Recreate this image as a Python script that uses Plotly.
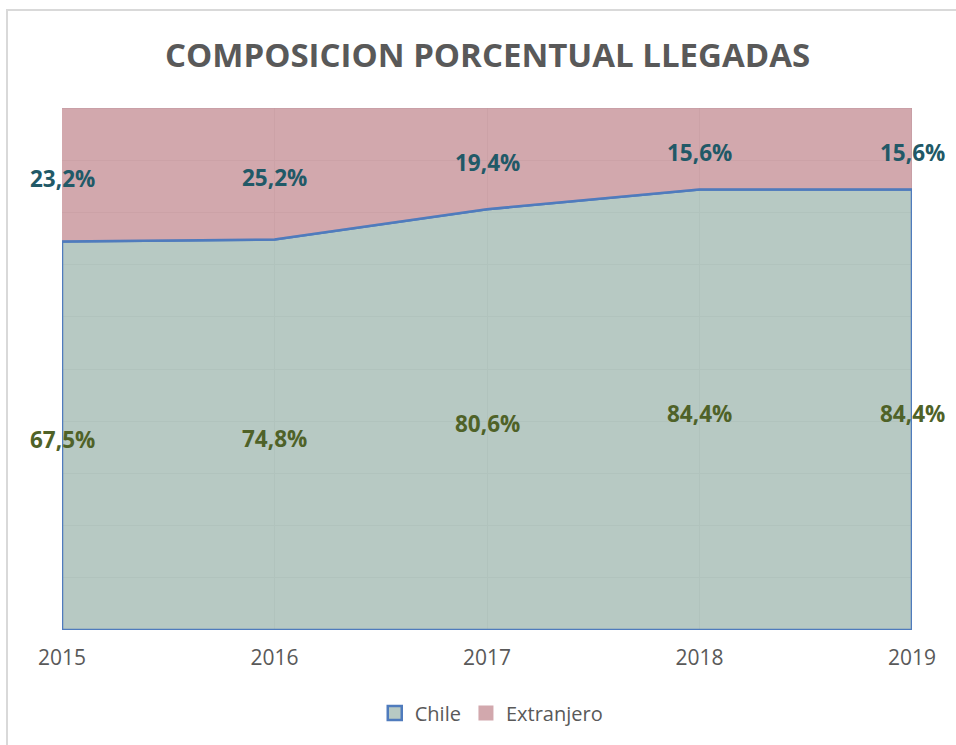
import plotly.graph_objects as go

years = [2015, 2016, 2017, 2018, 2019]
chile = [67.5, 74.8, 80.6, 84.4, 84.4]
extranjero = [23.2, 25.2, 19.4, 15.6, 15.6]
chile_labels = ["67,5%", "74,8%", "80,6%", "84,4%", "84,4%"]
ext_labels = ["23,2%", "25,2%", "19,4%", "15,6%", "15,6%"]

# 100% stacked: normalise each year
totals = [c + e for c, e in zip(chile, extranjero)]
chile_pct = [c / t * 100 for c, t in zip(chile, totals)]
top = [100.0] * len(years)

BLUE = "#4f7bbd"
CH_FILL = "rgba(175,195,188,0.9)"
EX_FILL = "rgba(205,158,164,0.9)"

fig = go.Figure()

# Chile area (closed polygon so the outline surrounds it)
fig.add_trace(go.Scatter(
    x=years + [years[-1], years[0], years[0]],
    y=chile_pct + [0, 0, chile_pct[0]],
    fill="toself", fillcolor=CH_FILL,
    mode="lines", line=dict(color=BLUE, width=2.5),
    name="Chile", hoverinfo="skip", showlegend=False,
))
# Extranjero area between Chile and 100%
fig.add_trace(go.Scatter(
    x=years + years[::-1],
    y=chile_pct + top[::-1],
    fill="toself", fillcolor=EX_FILL,
    mode="lines", line=dict(color="rgba(190,150,158,0.9)", width=1),
    name="Extranjero", hoverinfo="skip", showlegend=False,
))
# redraw Chile top line over the extranjero edge
fig.add_trace(go.Scatter(
    x=years, y=chile_pct, mode="lines",
    line=dict(color=BLUE, width=2.5), showlegend=False, hoverinfo="skip",
))

# legend entries with square swatches
fig.add_trace(go.Scatter(
    x=[None], y=[None], mode="markers", name="Chile",
    marker=dict(symbol="square", size=14, color="#b7c9c3", line=dict(color=BLUE, width=2.5)),
))
fig.add_trace(go.Scatter(
    x=[None], y=[None], mode="markers", name="Extranjero",
    marker=dict(symbol="square", size=15, color="#d2a8ad", line=dict(width=0)),
))

# data labels centred in each band
annotations = []
for x, p, tc, te in zip(years, chile_pct, chile_labels, ext_labels):
    annotations.append(dict(x=x, y=p / 2, xref="x", yref="y", text=f"<b>{tc}</b>",
                            showarrow=False, yshift=-4,
                            font=dict(family="Open Sans", size=22.5, color="#4f6228")))
    annotations.append(dict(x=x, y=(p + 100) / 2, xref="x", yref="y", text=f"<b>{te}</b>",
                            showarrow=False, yshift=-4,
                            font=dict(family="Open Sans", size=22.5, color="#215967")))

fig.update_layout(
    width=956, height=745,
    margin=dict(l=62, r=44, t=108, b=115),
    paper_bgcolor="white", plot_bgcolor="white",
    font=dict(family="Open Sans", color="#595959"),
    title=dict(text="<b>COMPOSICION PORCENTUAL LLEGADAS</b>", x=0.51, xanchor="center",
               y=0.926, yanchor="middle",
               font=dict(family="Open Sans", size=33, color="#595959")),
    showlegend=True,
    legend=dict(orientation="h", x=0.505, xanchor="center", y=-0.159, yanchor="middle",
                font=dict(family="Open Sans", size=20, color="#595959"),
                itemwidth=30, traceorder="normal"),
    xaxis=dict(range=[2015, 2019], tickvals=years, ticktext=[str(y) for y in years],
               showgrid=True, gridcolor="#c4c4c4", gridwidth=1, zeroline=False,
               tickfont=dict(family="Open Sans", size=21, color="#595959"),
               ticks="", ticklabelstandoff=13, showline=False),
    yaxis=dict(range=[0, 100], dtick=10, showgrid=True, gridcolor="#c4c4c4", gridwidth=1,
               showticklabels=False, zeroline=False, ticks="", showline=False),
    annotations=annotations,
    shapes=[dict(type="rect", xref="paper", yref="paper",
                 x0=-0.0647, x1=1.06, y0=-0.25, y1=1.1877,
                 line=dict(color="#d9d9d9", width=2), fillcolor="rgba(0,0,0,0)",
                 layer="below")],
)

fig.write_html("out.html")
